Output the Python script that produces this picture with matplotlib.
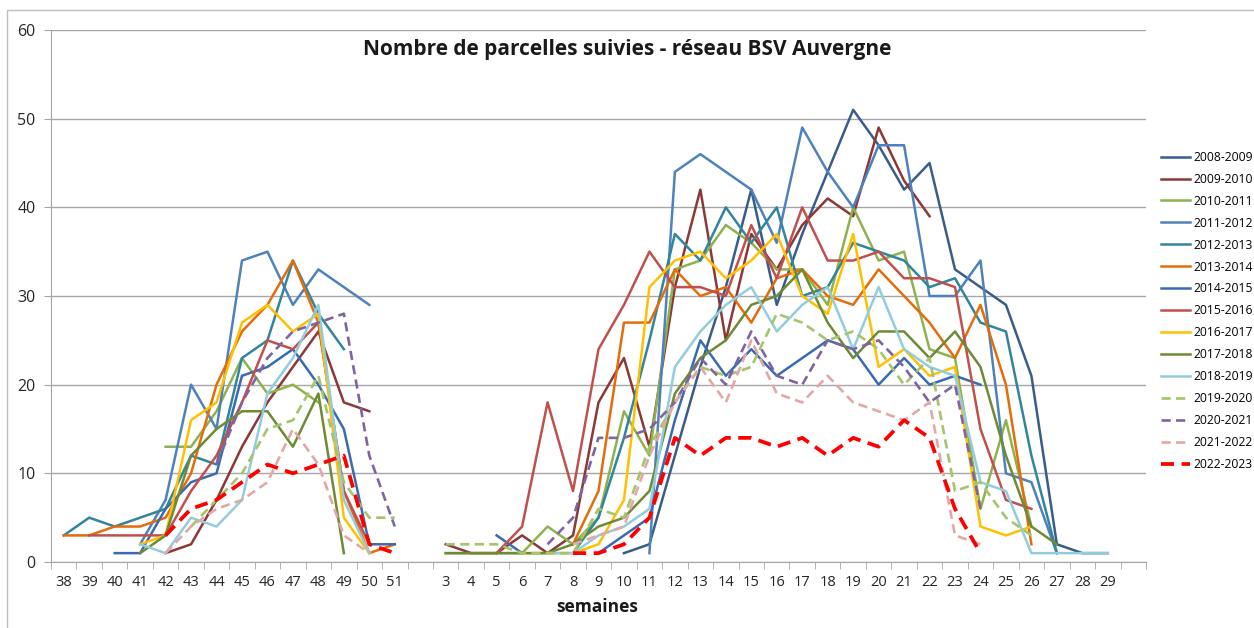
import numpy as np
import matplotlib
matplotlib.use("Agg")
import matplotlib.pyplot as plt
from matplotlib.patches import Rectangle

plt.rcParams['font.family'] = ['Open Sans', 'DejaVu Sans']

N = None

# semaines : fin d'année (38-51) puis début d'année (3-29)
weeks_left = [38, 39, 40, 41, 42, 43, 44, 45, 46, 47, 48, 49, 50, 51]
weeks_right = [3, 4, 5, 6, 7, 8, 9, 10, 11, 12, 13, 14, 15, 16, 17, 18, 19,
               20, 21, 22, 23, 24, 25, 26, 27, 28, 29]

seasons = ['2008-2009', '2009-2010', '2010-2011', '2011-2012', '2012-2013',
           '2013-2014', '2014-2015', '2015-2016', '2016-2017', '2017-2018',
           '2018-2019', '2019-2020', '2020-2021', '2021-2022', '2022-2023']

# valeurs semaines 38-51
l2008 = [N, N, N, N, N, N, N, N, N, N, N, N, N, N]
l2009 = [N, N, N, N, 1, 2, 7, 13, 18, 22, 26, 18, 17, N]
l2010 = [N, N, N, N, 13, 13, 17, 23, 19, 20, 18, N, N, N]
l2011 = [N, N, N, 2, 7, 20, 15, 34, 35, 29, 33, 31, 29, N]
l2012 = [3, 5, 4, 5, 6, 12, 11, 23, 25, 34, 28, 24, N, N]
l2013 = [3, 3, 4, 4, 5, 10, 20, 26, 29, 34, 27, 8, 1, 2]
l2014 = [N, N, 1, 1, 6, 9, 10, 21, 22, 24, 20, 15, 2, 2]
l2015 = [N, 3, 3, 3, 3, 8, 12, 18, 25, 24, 27, 8, 2, N]
l2016 = [N, N, N, 2, 3, 16, 18, 27, 29, 26, 28, 5, 1, N]
l2017 = [N, N, N, 1, 3, 12, 15, 17, 17, 13, 19, 1, N, N]
l2018 = [N, N, N, 2, 1, 5, 4, 7, 19, 23, 29, 7, 1, N]
l2019 = [N, N, N, N, N, 4, 7, 10, 15, 16, 21, 9, 5, 5]
l2020 = [N, N, N, N, N, N, 11, 18, 23, 26, 27, 28, 12, 4]
l2021 = [N, N, N, N, 1, 4, 6, 7, 9, 15, 11, 3, 1, N]
l2022 = [N, N, N, N, 3, 6, 7, 9, 11, 10, 11, 12, 2, 1]

# valeurs semaines 3-29
r2008 = [N, N, N, N, N, N, N, 1, 2, 12, 22, 31, 42, 29, 37, 44, 51, 47, 42, 45, 33, 31, 29, 21, 2, 1, 1]
r2009 = [2, 1, 1, 3, 1, 3, 18, 23, 13, 31, 42, 25, 37, 33, 38, 41, 39, 49, 43, 39, N, N, N, N, N, N, N]
r2010 = [1, 1, 1, 1, 4, 2, 5, 17, 12, 33, 34, 38, 36, 33, 33, 29, 40, 34, 35, 24, 23, 6, 16, 4, N, N, N]
r2011 = [N, N, N, N, N, N, N, N, 1, 44, 46, 44, 42, 36, 49, 44, 40, 47, 47, 30, 30, 34, 10, 9, 1, N, N]
r2012 = [N, N, N, N, N, 1, 5, 14, 25, 37, 34, 40, 36, 40, 30, 31, 36, 35, 34, 31, 32, 27, 26, 12, 1, N, N]
r2013 = [N, N, N, N, N, 2, 8, 27, 27, 33, 30, 31, 27, 32, 33, 30, 29, 33, 30, 27, 23, 29, 20, 2, N, N, N]
r2014 = [N, N, 3, 1, N, N, 1, 3, 5, 16, 25, 21, 24, 21, 23, 25, 24, 20, 23, 20, 21, 20, N, N, N, N, N]
r2015 = [N, N, 1, 4, 18, 8, 24, 29, 35, 31, 31, 30, 38, 32, 40, 34, 34, 35, 32, 32, 31, 15, 7, 6, N, N, N]
r2016 = [N, N, N, 1, 1, 1, 2, 7, 31, 34, 35, 32, 34, 37, 30, 28, 37, 22, 24, 21, 22, 4, 3, 4, N, N, N]
r2017 = [1, 1, 1, 1, 1, 2, 4, 5, 8, 19, 23, 25, 29, 30, 33, 27, 23, 26, 26, 23, 26, 22, 12, 4, 2, N, N]
r2018 = [N, N, N, N, 1, 1, 3, 4, 6, 22, 26, 29, 31, 26, 29, 31, 24, 31, 24, 22, 21, 9, 8, 1, 1, 1, 1]
r2019 = [2, 2, 2, 1, 1, 1, 6, 5, 13, 18, 22, 21, 22, 28, 27, 25, 26, 24, 20, 23, 8, 9, 5, 3, N, N, N]
r2020 = [N, N, N, N, 2, 5, 14, 14, 15, 18, 23, 20, 26, 21, 20, 25, 24, 25, 22, 18, 20, 6, N, N, N, N, N]
r2021 = [N, N, N, N, N, 2, 3, 4, 12, 18, 22, 18, 25, 19, 18, 21, 18, 17, 16, 18, 3, 2, N, N, N, N, N]
r2022 = [N, N, N, N, N, 1, 1, 2, 5, 14, 12, 14, 14, 13, 14, 12, 14, 13, 16, 14, 6, 1, N, N, N, N, N]

left_vals = [l2008, l2009, l2010, l2011, l2012, l2013, l2014, l2015,
             l2016, l2017, l2018, l2019, l2020, l2021, l2022]
right_vals = [r2008, r2009, r2010, r2011, r2012, r2013, r2014, r2015,
              r2016, r2017, r2018, r2019, r2020, r2021, r2022]

colors = ['#385D8A', '#8C3836', '#8FB24F', '#4F81BD', '#31859C', '#E46C0A',
          '#3A6BB0', '#C0504D', '#FFC000', '#6E8A35', '#93CDDD', '#A5C46B',
          '#8064A2', '#E0A9A8', '#FF0000']
dashed = [False] * 11 + [True] * 4

fig = plt.figure(figsize=(12.54, 6.28), dpi=100)
ax = fig.add_axes([51 / 1254, 1 - 562 / 628, (1146 - 51) / 1254, (562 - 30) / 628])

# une catégorie vide entre 51 et 3, une autre après 29
x_left = np.arange(len(weeks_left))
x_right = np.arange(len(weeks_right)) + len(weeks_left) + 1
x_all = np.concatenate([x_left, [len(weeks_left)], x_right])

for i, s in enumerate(seasons):
    y = [np.nan if v is None else v for v in left_vals[i]] + [np.nan] + \
        [np.nan if v is None else v for v in right_vals[i]]
    y = np.array(y, dtype=float)
    if dashed[i]:
        lw = 2.7 if s == '2022-2023' else 1.9
        ax.plot(x_all, y, color=colors[i], lw=lw, ls=(0, (3.5, 2)), label=s,
                dash_capstyle='butt')
    else:
        ax.plot(x_all, y, color=colors[i], lw=1.8, label=s)

ncat = len(weeks_left) + 1 + len(weeks_right) + 1
ax.set_xlim(-0.5, ncat - 0.5)
ax.set_ylim(0, 60)

ax.set_xticks(np.concatenate([x_left, x_right]))
ax.set_xticklabels([str(w) for w in weeks_left + weeks_right], fontsize=10.5, color='#262626')
ax.set_xticks(np.arange(-0.5, ncat, 1), minor=True)
ax.tick_params(axis='x', which='major', length=0, pad=9)
ax.tick_params(axis='x', which='minor', length=5, color='#A6A6A6', direction='out')

ax.set_yticks(range(0, 61, 10))
ax.tick_params(axis='y', length=5, color='#A6A6A6', labelsize=11.5, labelcolor='#262626', pad=6)

ax.grid(axis='y', color='#A6A6A6', lw=1)
ax.set_axisbelow(True)
for side in ['top', 'right']:
    ax.spines[side].set_visible(False)
for side in ['left', 'bottom']:
    ax.spines[side].set_color('#A6A6A6')

fig.text(627 / 1254, 1 - 50 / 628, 'Nombre de parcelles suivies - réseau BSV Auvergne',
         ha='center', va='center', fontsize=15, fontweight='bold', color='#1a1a1a')
fig.text(597 / 1254, 1 - 607 / 628, 'semaines', ha='center', va='center',
         fontsize=12.5, fontweight='bold', color='#1a1a1a')

fig.legend(loc='upper left', bbox_to_anchor=(1156 / 1254, 1 - 146 / 628),
           frameon=False, fontsize=8.7, handlelength=2.4, handletextpad=0.3,
           labelspacing=0.74, borderaxespad=0)

fig.patches.append(Rectangle((7 / 1254, -0.05), 1.2, 1 - 10 / 628 + 0.05,
                             transform=fig.transFigure, fill=False,
                             edgecolor='#BFBFBF', lw=1))

fig.savefig('out.png', dpi=100)
